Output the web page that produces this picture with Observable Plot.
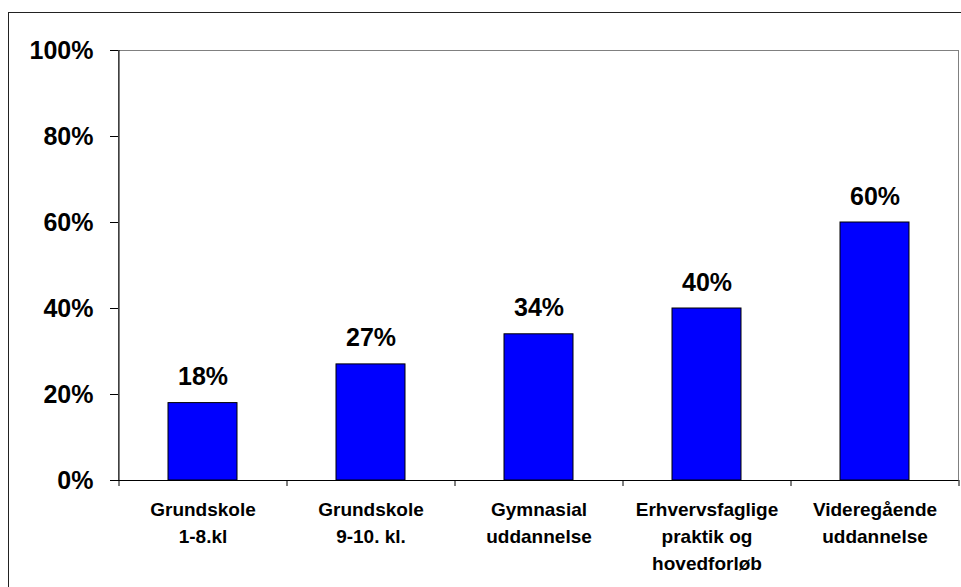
<!DOCTYPE html>
<html>
<head>
<meta charset="utf-8">
<script src="https://cdn.jsdelivr.net/npm/d3@7"></script>
<script src="https://cdn.jsdelivr.net/npm/@observablehq/plot@0.6"></script>
<style>
  html, body { margin: 0; padding: 0; background: #fff; }
  #wrap { position: relative; width: 961px; height: 587px; overflow: hidden; background: #fff; }
  #outer { position: absolute; left: 8px; top: 12px; width: 1100px; height: 700px; border: 1px solid #222; box-sizing: border-box; }
  #chart { position: absolute; left: 0; top: 0; }
</style>
</head>
<body>
<div id="wrap"><div id="outer"></div><div id="chart"></div></div>
<script>
const categories = ["Grundskole\n1-8.kl", "Grundskole\n9-10. kl.", "Gymnasial\nuddannelse", "Erhvervsfaglige\npraktik og\nhovedforløb", "Videregående\nuddannelse"];
const values = [0.18, 0.27, 0.34, 0.40, 0.60];
const yTicks = [0, 0.2, 0.4, 0.6, 0.8, 1.0];

const data = categories.map((c, i) => ({cat: c, value: values[i]}));
const pct = d3.format(".0%");
const half = 84; // half of band step

const chart = Plot.plot({
  width: 961,
  height: 587,
  marginLeft: 118,
  marginRight: 3,
  marginTop: 50,
  marginBottom: 107,
  style: {fontFamily: "Arial, 'Liberation Sans', sans-serif", fontWeight: "bold", background: "transparent", color: "black"},
  x: {domain: categories, paddingInner: 0.59, paddingOuter: 0.295, axis: null},
  y: {domain: [0, 1], axis: null},
  marks: [
    Plot.frame({stroke: "#808080"}),
    Plot.barY(data, {x: "cat", y: "value", fill: "#0000FF", stroke: "black", strokeWidth: 1}),
    Plot.ruleY([0], {stroke: "black"}),
    Plot.ruleX([categories[0]], {x: d => d, dx: -half, y1: 0, y2: 1, stroke: "black"}),
    Plot.ruleX(categories, {x: d => d, dx: -half, y1: 0, y2: 0, insetBottom: -6, stroke: "black"}),
    Plot.ruleX([categories[categories.length - 1]], {x: d => d, dx: half, y1: 0, y2: 0, insetBottom: -6, stroke: "black"}),
    Plot.axisY({ticks: yTicks, tickFormat: pct, tickSize: 8, tickPadding: 17, fontSize: 25, label: null, stroke: "black"}),
    Plot.axisX({tickSize: 0, tickPadding: 17, fontSize: 19, lineHeight: 1.4, label: null}),
    Plot.text(data, {x: "cat", y: "value", text: d => pct(d.value), dy: -26, fontSize: 25, fill: "black"})
  ]
});
document.getElementById("chart").appendChild(chart);
</script>
</body>
</html>
